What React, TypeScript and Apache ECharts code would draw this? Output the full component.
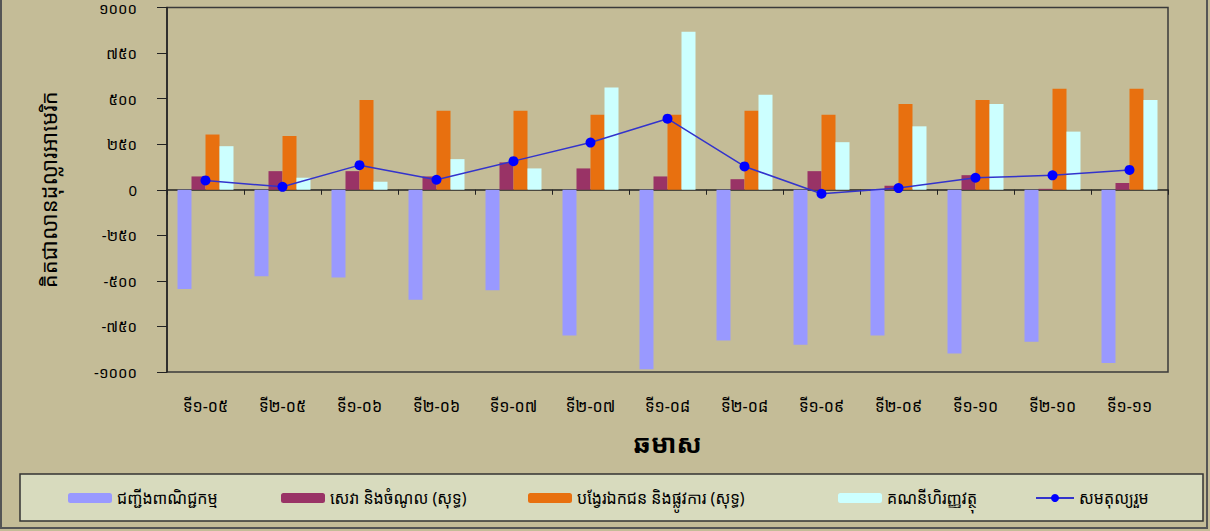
import React, { useEffect, useRef } from "react";
import * as echarts from "echarts";

const categories = ["ទី១-០៥", "ទី២-០៥", "ទី១-០៦", "ទី២-០៦", "ទី១-០៧", "ទី២-០៧", "ទី១-០៨", "ទី២-០៨", "ទី១-០៩", "ទី២-០៩", "ទី១-១០", "ទី២-១០", "ទី១-១១"];
const tradeBalance = [-544, -475, -481, -603, -552, -800, -985, -827, -850, -800, -899, -834, -950];
const servicesIncome = [73, 102, 102, 73, 150, 117, 73, 58, 102, 22, 80, 5, 37];
const transfers = [303, 295, 492, 434, 434, 412, 412, 434, 412, 470, 492, 554, 554];
const financialAccount = [239, 66, 44, 168, 117, 561, 867, 521, 261, 348, 470, 319, 492];
const overallBalance = [51, 16, 135, 55, 157, 259, 390, 128, -22, 9, 66, 79, 109];

const yTickValues = [-1000, -750, -500, -250, 0, 250, 500, 750, 1000];
const yTickLabels = ["-១០០០", "-៧៥០", "-៥០០", "-២៥០", "0", "២៥០", "៥០០", "៧៥០", "១០០០"];

const seriesNames = [
  "ជញ្ជីងពាណិជ្ជកម្ម",
  "សេវា និងចំណូល (សុទ្ធ)",
  "បង្វែរឯកជន និងផ្លូវការ (សុទ្ធ)",
  "គណនីហិរញ្ញវត្ថុ",
  "សមតុល្យរួម",
];

const colors = ["#9999FF", "#993366", "#E8700F", "#CCFFFF", "#0000FF"];
const FONT = "'Noto Sans Khmer', 'Khmer OS', 'DejaVu Sans', sans-serif";

export default function App() {
  const ref = useRef<HTMLDivElement>(null);
  useEffect(() => {
    if (!ref.current) return;
    const chart = echarts.init(ref.current, null, { renderer: "svg" });
    const barSeries = [tradeBalance, servicesIncome, transfers, financialAccount].map((d, i) => ({
      name: seriesNames[i],
      type: "bar",
      data: d,
      barWidth: 14,
      barGap: "0%",
      itemStyle: { color: colors[i] },
      xAxisIndex: 0,
      yAxisIndex: 0,
    }));
    const legendLefts = [63, 276, 523, 833, 1030];
    const option: any = {
      animation: false,
      backgroundColor: "#C4BC97",
      textStyle: { fontFamily: FONT },
      grid: {
        left: 167,
        top: 6,
        right: 42,
        bottom: 159,
        show: true,
        borderColor: "#3a3a3a",
        borderWidth: 1.5,
        backgroundColor: "transparent",
      },
      graphic: [
        {
          type: "rect",
          shape: { x: 1, y: -5, width: 1206, height: 533 },
          style: { fill: "none", stroke: "#555", lineWidth: 2 },
          silent: true,
        },
        {
          type: "rect",
          shape: { x: 20, y: 474, width: 1183, height: 47 },
          style: { fill: "#D8DBBE", stroke: "#333", lineWidth: 1.5 },
          silent: true,
          z: -1,
        },
      ],
      legend: seriesNames.map((n, i) => ({
        data: [n],
        left: legendLefts[i],
        top: 485,
        itemWidth: i === 4 ? 38 : 44,
        itemHeight: 10,
        itemGap: 4,
        textStyle: { fontSize: 16, color: "#000", fontFamily: FONT },
        selectedMode: false,
      })),
      xAxis: [
        {
          type: "category",
          data: categories,
          position: "bottom",
          axisLine: { show: false, onZero: false },
          axisTick: { show: false },
          axisLabel: { color: "#000", fontSize: 16, margin: 26, fontFamily: FONT, interval: 0 },
          name: "ឆមាស",
          nameLocation: "middle",
          nameGap: 58,
          nameTextStyle: { fontSize: 26, fontWeight: "bold", color: "#000", fontFamily: FONT },
        },
        {
          type: "category",
          data: categories,
          position: "bottom",
          axisLine: { show: true, onZero: true, lineStyle: { color: "#222", width: 1.5 } },
          axisTick: { show: true, length: 5, lineStyle: { color: "#222" } },
          axisLabel: { show: false },
        },
      ],
      yAxis: {
        type: "value",
        min: -1000,
        max: 1000,
        interval: 250,
        axisLine: { show: true, lineStyle: { color: "#222", width: 1.5 } },
        axisTick: { show: true, length: 10, lineStyle: { color: "#222" } },
        splitLine: { show: false },
        axisLabel: {
          color: "#000",
          fontSize: 15,
          margin: 30,
          fontFamily: FONT,
          formatter: (v: number) => {
            const idx = yTickValues.indexOf(v);
            return idx >= 0 ? yTickLabels[idx] : String(v);
          },
        },
        name: "គិតជាលានដុល្លារអាមេរិក",
        nameLocation: "middle",
        nameGap: 108,
        nameTextStyle: { fontSize: 22, color: "#000", fontFamily: FONT },
      },
      series: [
        ...barSeries,
        {
          name: seriesNames[4],
          type: "line",
          data: overallBalance,
          symbol: "circle",
          symbolSize: 10,
          itemStyle: { color: "#0000FF" },
          lineStyle: { color: "#3333CC", width: 1.5 },
          xAxisIndex: 0,
          yAxisIndex: 0,
          z: 5,
        },
      ],
    };
    chart.setOption(option);
    return () => chart.dispose();
  }, []);
  return <div ref={ref} style={{ position: "fixed", left: 0, top: 0, width: 1210, height: 531 }} />;
}
